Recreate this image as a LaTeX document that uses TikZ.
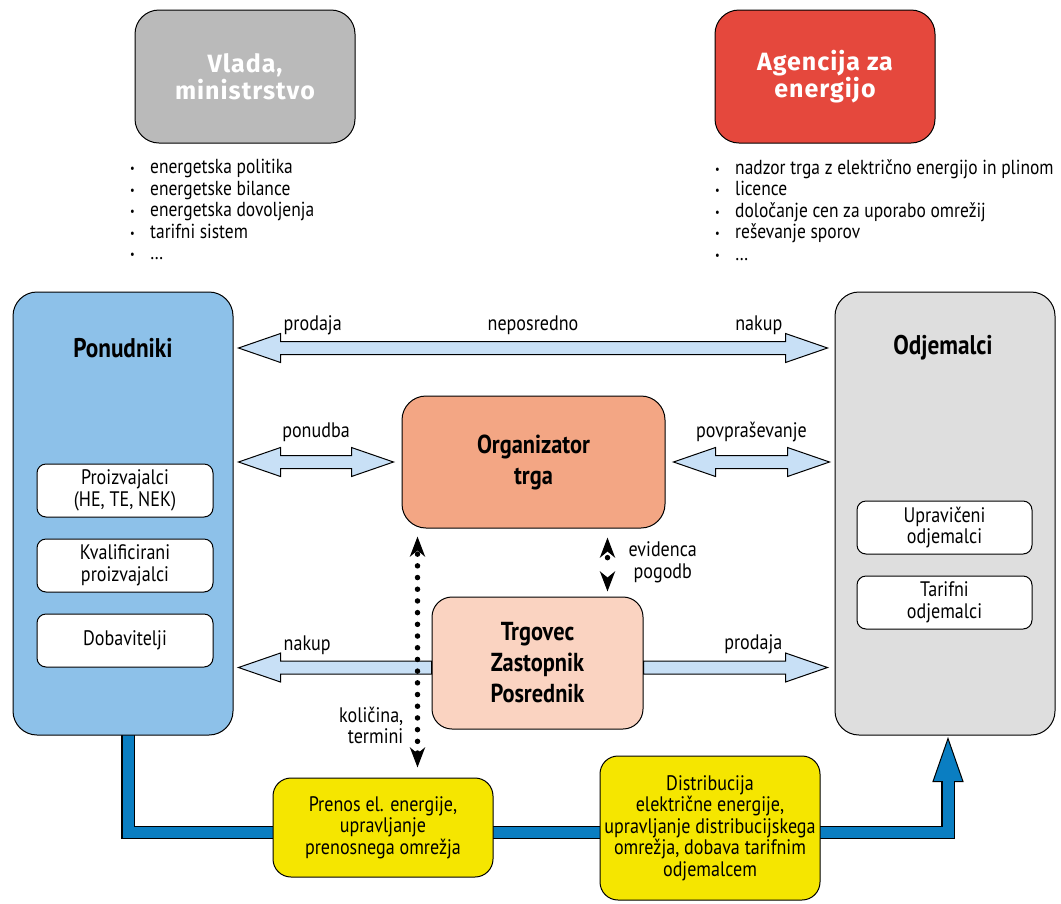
\documentclass[tikz,border=0pt]{standalone}
\usepackage{fontspec}
\setmainfont{PT Sans}[FakeStretch=0.86]
\newfontfamily\headfont{Fira Sans}[LetterSpace=4]
\usepackage{xcolor}
\usetikzlibrary{positioning,calc,arrows.meta,backgrounds}

\definecolor{govgray}{HTML}{BABABA}
\definecolor{agencyred}{HTML}{E5483D}
\definecolor{supplyblue}{HTML}{8DC1E9}
\definecolor{buyergray}{HTML}{DEDEDE}
\definecolor{orgsalmon}{HTML}{F3A684}
\definecolor{tradepeach}{HTML}{FAD3C1}
\definecolor{netyellow}{HTML}{F5E600}
\definecolor{arrowblue}{HTML}{C8E0F6}
\definecolor{pipeblue}{HTML}{0A7EC2}

% bullet for the short lists under the top boxes
\newcommand{\itm}{\makebox[20pt][l]{\raisebox{1pt}{\fontsize{12}{12}\selectfont\textbullet}}}

% wide two-way arrow between two points on one level
\newcommand{\twoway}[2]{%
  \draw[wide] (#1) -- ++(42,-14.5) -- ++(0,8) -- ($(#2)+(-42,-6.5)$) -- ++(0,-8) -- (#2)
    -- ++(-42,14.5) -- ++(0,-8) -- ($(#1)+(42,6.5)$) -- ++(0,8) -- cycle;}

\begin{document}
\begin{tikzpicture}[x=1pt, y=-1pt,
    every node/.style={font=\fontsize{21}{21.5}\selectfont},
    box/.style={draw=black, line width=1pt, rounded corners=24pt, inner sep=0pt, align=center},
    headbox/.style={box, minimum width=220pt, minimum height=133pt, text=white,
        font=\headfont\bfseries\fontsize{25}{27.5}\selectfont},
    bigbox/.style={box, minimum width=220pt, minimum height=443pt},
    subbox/.style={box, fill=white, rounded corners=9pt, minimum width=176pt, minimum height=53pt},
    market/.style={box, font=\bfseries\fontsize{26}{31}\selectfont, minimum height=132pt},
    netbox/.style={box, fill=netyellow, rounded corners=18pt, minimum width=220pt},
    headline/.style={inner sep=0pt, font=\bfseries\fontsize{27}{28}\selectfont},
    list/.style={inner sep=0pt, align=left, anchor=north west, font=\fontsize{20.3}{21.5}\selectfont},
    lbl/.style={inner sep=0pt},
    wide/.style={draw=black, line width=1pt, fill=arrowblue, line join=miter},
    dotline/.style={line width=5.5pt, line cap=round, <->,
        >={Stealth[length=20pt,width=15pt,inset=6pt]}},
    pipe/.style={draw=black, line width=1.2pt, double=pipeblue, double distance=11pt},
]
\useasboundingbox (0,0) rectangle (1061,903);

% ---------------------------------------------------------------
% top: institutions with their tasks
% ---------------------------------------------------------------
\node[headbox, fill=govgray] (vlada) at (245,76.5) {Vlada,\\ministrstvo};
\node[headbox, fill=agencyred] (agencija) at (825,76.5) {Agencija za\\energijo};

\node[list] (vladaList) at (130,159) {%
    \itm energetska politika\\
    \itm energetske bilance\\
    \itm energetska dovoljenja\\
    \itm tarifni sistem\\
    \itm \dots};
\node[list] (agencijaList) at (715,159) {%
    \itm nadzor trga z električno energijo in plinom\\
    \itm licence\\
    \itm določanje cen za uporabo omrežij\\
    \itm reševanje sporov\\
    \itm \dots};

% ---------------------------------------------------------------
% market participants
% ---------------------------------------------------------------
\node[bigbox, fill=supplyblue] (pon) at (123,513.5) {};
\node[headline] (ponT) at (123,348) {Ponudniki};
\node[subbox] (proiz) at (125,490.5) {Proizvajalci\\(HE, TE, NEK)};
\node[subbox, below=21pt of proiz] (kval) {Kvalificirani\\proizvajalci};
\node[subbox, below=21pt of kval] (dob) {Dobavitelji};

\node[bigbox, fill=buyergray] (odj) at (945,513.5) {};
\node[headline] (odjT) at (943,348) {Odjemalci};
\node[subbox, minimum width=175pt] (upr) at (944.5,527.5) {Upravičeni\\odjemalci};
\node[subbox, minimum width=175pt, below=21pt of upr] (tar) {Tarifni\\odjemalci};

\node[market, fill=orgsalmon, minimum width=263pt] (org) at (533.5,462) {Organizator\\trga};
\node[market, fill=tradepeach, minimum width=211pt, rounded corners=20pt] (trg) at (537.5,663)
    {Trgovec\\Zastopnik\\Posrednik};

% ---------------------------------------------------------------
% networks
% ---------------------------------------------------------------
\node[netbox, minimum height=99pt] (prenos) at (383,827.5)
    {Prenos el. energije,\\upravljanje\\prenosnega omrežja};
\node[netbox, minimum height=144pt] (distr) at (710,828)
    {Distribucija\\električne energije,\\upravljanje distribucijskega\\omrežja, dobava tarifnim\\odjemalcem};

% energy flow pipe behind the boxes
\coordinate (pipeStart) at ([xshift=5pt,yshift=5pt]pon.south);
\coordinate (bend) at ($(pon.south)+(5,97)$);
\coordinate (tipA) at ([xshift=3pt,yshift=-3pt]odj.south);
\coordinate (aBase) at ($(tipA)+(0,43)$);
\begin{scope}[on background layer]
\draw[line width=1pt, fill=pipeblue] ($(aBase)+(-15,0)$) -- (tipA) -- ($(aBase)+(15,0)$) -- cycle;
\draw[pipe] (pipeStart) -- (bend) -- (bend -| aBase) -- ($(aBase)+(0,-1)$);
\end{scope}

% ---------------------------------------------------------------
% trade arrows
% ---------------------------------------------------------------
\coordinate (ponE) at ([xshift=5pt]pon.east);
\coordinate (odjW) at ([xshift=-7pt]odj.west);

% direct trade
\coordinate (topL) at (ponE |- ponT);
\coordinate (topR) at (odjW |- ponT);
\twoway{topL}{topR}
\node[lbl, anchor=base west] at ($(topL)+(45,-18)$) {prodaja};
\node[lbl, anchor=base] at ($(topL)!0.5!(topR)+(0,-18)$) {neposredno};
\node[lbl, anchor=base east] at ($(topR)+(-45,-18)$) {nakup};

% bids to the market operator
\coordinate (bidL) at (ponE |- org.west);
\coordinate (bidR) at ([xshift=-8pt]org.west);
\twoway{bidL}{bidR}
\node[lbl, anchor=base] at ($(bidL)!0.5!(bidR)+(0,-25)$) {ponudba};

\coordinate (askL) at ([xshift=8pt]org.east);
\coordinate (askR) at ([xshift=2pt]odjW |- org.east);
\twoway{askL}{askR}
\node[lbl, anchor=base] at ($(askL)!0.5!(askR)+(0,-25)$) {povpraševanje};

% trader buys and sells
\coordinate (buyS) at ([yshift=-4.5pt]trg.west);
\coordinate (buyT) at (ponE |- buyS);
\draw[wide] (buyT) -- ++(42,-14.5) -- ++(0,8) -- ($(buyS)+(0,-6.5)$) -- ($(buyS)+(0,6.5)$)
    -- ($(buyT)+(42,6.5)$) -- ++(0,8) -- cycle;
\node[lbl, anchor=base west] at ($(buyT)+(45,-17)$) {nakup};

\coordinate (sellS) at ([yshift=-4.5pt]trg.east);
\coordinate (sellT) at (odjW |- sellS);
\draw[wide] ($(sellS)+(0,-6.5)$) -- ($(sellT)+(-42,-6.5)$) -- ++(0,-8) -- (sellT)
    -- ++(-42,14.5) -- ++(0,-8) -- ($(sellS)+(0,6.5)$) -- cycle;
\node[lbl, anchor=base east] at ($(sellT)+(-45,-18)$) {prodaja};

% ---------------------------------------------------------------
% information flows (dotted)
% ---------------------------------------------------------------
\coordinate (dotT) at ([xshift=16pt,yshift=-8pt]org.south west);
\coordinate (dotB) at ($(dotT |- prenos.north)+(0,-10)$);
\draw[dotline, dash pattern=on 0pt off 11.7pt, dash phase=6.7pt] (dotT) -- (dotB);
\node[lbl, anchor=east, align=right] at ($(dotB)+(-14,-42)$) {količina,\\termini};

\coordinate (evB) at ([xshift=-36pt,yshift=5pt]trg.north east);
\coordinate (evT) at ($(evB |- org.south)+(0,9)$);
\draw[dotline, dash pattern=on 0pt off 40pt, dash phase=32.5pt] (evT) -- (evB);
\node[lbl, anchor=west, align=center] at ($(evT)!0.5!(evB)+(21,-2)$) {evidenca\\pogodb};

\end{tikzpicture}
\end{document}
